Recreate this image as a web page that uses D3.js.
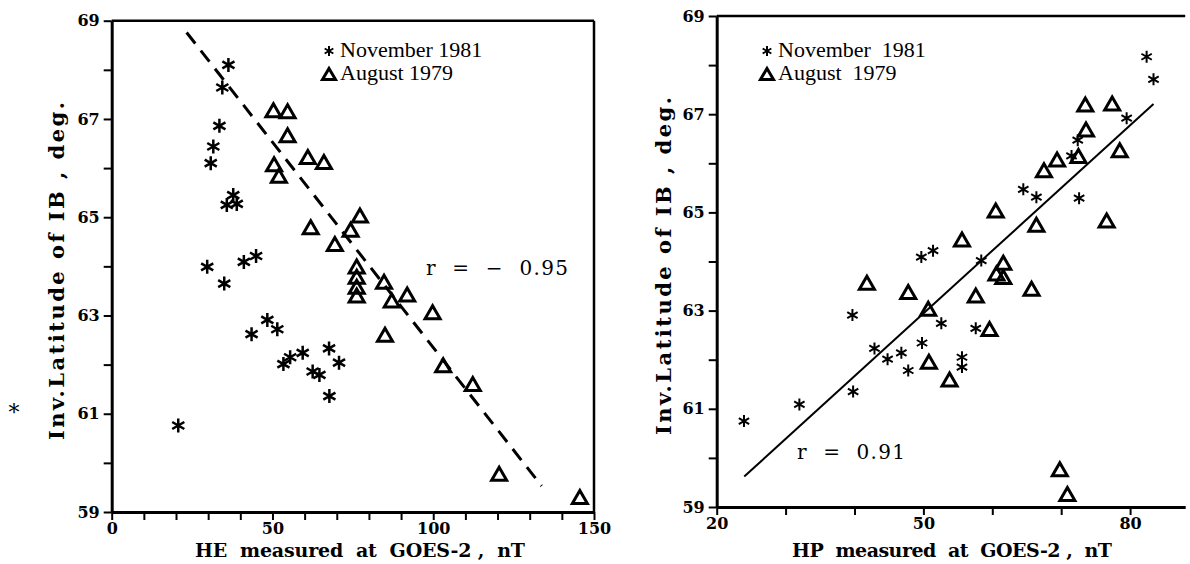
<!DOCTYPE html>
<html>
<head>
<meta charset="utf-8">
<script src="https://cdn.jsdelivr.net/npm/d3@7"></script>
<style>
  html, body { margin: 0; padding: 0; background: #fff; }
  svg { display: block; }
  .tick-label { font-family: "DejaVu Serif", serif; font-weight: bold; font-size: 16px; }
  .axis-title { font-family: "DejaVu Serif", serif; font-weight: bold; font-size: 19px; }
  .y-title { font-family: "DejaVu Serif", serif; font-weight: bold; font-size: 21px; }
  .legend { font-family: "Liberation Serif", "Times New Roman", serif; font-size: 22px; }
  .rtext { font-family: "DejaVu Serif", serif; font-size: 20px; }
</style>
</head>
<body>
<svg id="chart" width="1190" height="564"></svg>
<script>
// ---- Left panel: HE component vs. inv. latitude of the isotropic boundary ----
const heNovX = [36.3, 34.4, 33.5, 31.6, 30.8, 37.8, 35.8, 38.9, 29.7, 41.1, 44.9, 35.0,
                43.5, 48.4, 51.5, 53.4, 55.5, 59.4, 62.5, 64.6, 67.6, 70.7, 67.7, 20.7];
const heNovY = [68.10, 67.64, 66.86, 66.44, 66.10, 65.45, 65.25, 65.27, 63.99, 64.09, 64.21, 63.65,
                62.62, 62.91, 62.72, 62.01, 62.15, 62.24, 61.86, 61.79, 62.33, 62.04, 61.36, 60.76];
const heAugX = [50.3, 54.7, 54.7, 61.0, 66.0, 50.5, 52.0, 61.9, 77.2, 74.3, 69.4,
                76.2, 76.2, 76.2, 76.2, 84.7, 87.1, 91.9, 99.8, 85.0, 103.1, 112.3, 120.5, 145.6];
const heAugY = [67.15, 67.13, 66.64, 66.20, 66.10, 66.05, 65.82, 64.77, 65.01, 64.72, 64.43,
                63.97, 63.76, 63.56, 63.38, 63.66, 63.28, 63.40, 63.04, 62.58, 61.96, 61.58, 59.75, 59.28];
const heFitX = [23.3, 133.7];
const heFitY = [68.76, 59.53];
const heTicks = [0, 50, 100, 150];

// ---- Right panel: HP component vs. inv. latitude ----
const hpNovX = [23.96, 32.0, 39.8, 39.7, 42.9, 44.8, 46.8, 47.8, 49.8, 52.6, 49.7, 51.4,
                58.4, 55.6, 55.6, 57.6, 64.5, 66.4, 72.6, 71.5, 72.4, 79.5, 82.4, 83.4];
const hpNovY = [60.75, 61.09, 61.35, 62.91, 62.23, 62.01, 62.14, 61.78, 62.34, 62.74, 64.09, 64.22,
                64.02, 62.05, 61.85, 62.64, 65.47, 65.31, 65.29, 66.15, 66.47, 66.92, 68.17, 67.71];
const hpAugX = [41.8, 47.8, 50.7, 50.8, 53.8, 57.6, 59.6, 65.7, 61.6, 60.6, 61.6, 69.8,
                70.9, 60.5, 66.4, 55.6, 76.6, 67.5, 69.4, 72.5, 78.5, 73.6, 73.5, 77.4];
const hpAugY = [63.54, 63.35, 63.01, 61.93, 61.57, 63.28, 62.60, 63.42, 63.95, 63.73, 63.66, 59.74,
                59.24, 65.01, 64.72, 64.42, 64.81, 65.83, 66.05, 66.12, 66.24, 66.66, 67.17, 67.19];
const hpFitX = [24.0, 83.4];
const hpFitY = [59.62, 67.21];
const hpTicks = [20, 50, 80];

const latTickLabels = ["69", "67", "65", "63", "61", "59"];
const latTickValues = [69, 67, 65, 63, 61, 59];
const legendLabels = ["November 1981", "August 1979"];

const svg = d3.select("#chart");

// six-armed asterisk marker
function starPath(r) {
  const p = d3.path();
  for (let k = 0; k < 3; k++) {
    const a = Math.PI / 2 + k * Math.PI / 3;
    p.moveTo(-r * Math.cos(a), -r * Math.sin(a));
    p.lineTo(r * Math.cos(a), r * Math.sin(a));
  }
  return p.toString();
}
// open triangle marker
function triPath(w, h) {
  return `M0,${-h * 0.6}L${w / 2},${h * 0.4}L${-w / 2},${h * 0.4}Z`;
}

function panel(cfg) {
  const g = svg.append("g");
  const x = d3.scaleLinear().domain(cfg.xDomain).range(cfg.xRange);
  const y = d3.scaleLinear().domain([59, 69]).range(cfg.yRange);
  const [x0, x1] = cfg.xRange;
  const [yb, yt] = cfg.yRange;

  // frame
  g.append("line").attr("x1", x0).attr("x2", x1).attr("y1", yt).attr("y2", yt)
    .attr("stroke", "#000").attr("stroke-width", 2.5);
  if (cfg.rightBorder) {
    g.append("line").attr("x1", x1).attr("x2", x1).attr("y1", yt).attr("y2", yb)
      .attr("stroke", "#000").attr("stroke-width", 2.5);
  }

  // y axis (ticks every degree, labels on odd degrees)
  const yAxis = d3.axisLeft(y)
    .tickValues(d3.range(59, 70, 1))
    .tickSize(8)
    .tickSizeOuter(0)
    .tickFormat(d => {
      const i = latTickValues.indexOf(d);
      return i >= 0 ? latTickLabels[i] : "";
    });
  const ya = g.append("g").attr("transform", `translate(${x0},0)`).call(yAxis);
  ya.select(".domain").attr("stroke-width", 3);
  ya.selectAll(".tick line").attr("stroke-width", 2);
  ya.selectAll(".tick text").attr("class", "tick-label").attr("x", -12).attr("fill", "#000");

  // x axis
  const xAxis = d3.axisBottom(x)
    .tickValues(d3.range(cfg.xDomain[0], cfg.xDomain[1] + 0.001, cfg.minorStep))
    .tickSize(8)
    .tickSizeOuter(0)
    .tickFormat(d => cfg.xTicks.some(t => Math.abs(t - d) < 1e-6) ? String(d) : "");
  const xa = g.append("g").attr("transform", `translate(0,${yb})`).call(xAxis);
  xa.select(".domain").attr("stroke-width", 3);
  xa.selectAll(".tick line").attr("stroke-width", 2);
  xa.selectAll(".tick text").attr("class", "tick-label").attr("y", 11).attr("fill", "#000");

  // regression line
  g.append("line")
    .attr("x1", x(cfg.fitX[0])).attr("y1", y(cfg.fitY[0]))
    .attr("x2", x(cfg.fitX[1])).attr("y2", y(cfg.fitY[1]))
    .attr("stroke", "#000")
    .attr("stroke-width", cfg.dashed ? 3 : 2)
    .attr("stroke-dasharray", cfg.dashed ? "14,9" : null);

  // August 1979 triangles
  g.append("g").selectAll("path").data(cfg.augX.map((v, i) => [v, cfg.augY[i]])).join("path")
    .attr("d", triPath(15, 13))
    .attr("transform", d => `translate(${x(d[0])},${y(d[1])})`)
    .attr("fill", "none").attr("stroke", "#000").attr("stroke-width", 3)
    .attr("stroke-linejoin", "miter");

  // November 1981 asterisks
  g.append("g").selectAll("path").data(cfg.novX.map((v, i) => [v, cfg.novY[i]])).join("path")
    .attr("d", starPath(cfg.starR))
    .attr("transform", d => `translate(${x(d[0])},${y(d[1])})`)
    .attr("fill", "none").attr("stroke", "#000").attr("stroke-width", cfg.starW);

  // legend
  const lg = g.append("g").attr("transform", `translate(${cfg.legend[0]},${cfg.legend[1]})`);
  lg.append("path").attr("d", starPath(5)).attr("transform", "translate(0,-6)")
    .attr("stroke", "#000").attr("stroke-width", 2);
  lg.append("text").attr("class", "legend").attr("x", 11).attr("y", 0)
    .style("white-space", "pre").text(cfg.legendText[0]);
  lg.append("path").attr("d", triPath(13, 11)).attr("transform", "translate(0,18)")
    .attr("fill", "none").attr("stroke", "#000").attr("stroke-width", 3);
  lg.append("text").attr("class", "legend").attr("x", 11).attr("y", 23)
    .style("white-space", "pre").text(cfg.legendText[1]);

  // correlation coefficient
  g.append("text").attr("class", "rtext").attr("x", cfg.rPos[0]).attr("y", cfg.rPos[1])
    .attr("textLength", cfg.rLen).attr("lengthAdjust", "spacing")
    .style("white-space", "pre").text(cfg.rText);

  // axis titles
  g.append("text").attr("class", "axis-title").attr("text-anchor", "middle")
    .attr("x", cfg.xTitle[0]).attr("y", cfg.xTitle[1])
    .attr("textLength", cfg.xTitleLen).attr("lengthAdjust", "spacing")
    .style("white-space", "pre").text(cfg.xTitleText);
  g.append("text").attr("class", "y-title").attr("text-anchor", "middle")
    .attr("transform", `translate(${cfg.yTitle[0]},${cfg.yTitle[1]}) rotate(-90)`)
    .attr("textLength", 338).attr("lengthAdjust", "spacing")
    .style("white-space", "pre").text("Inv.Latitude of IB , deg.");
}

panel({
  xDomain: [0, 150], xRange: [111.7, 594], yRange: [512, 20.7],
  minorStep: 10, xTicks: heTicks, rightBorder: true,
  novX: heNovX, novY: heNovY, augX: heAugX, augY: heAugY,
  fitX: heFitX, fitY: heFitY, dashed: true, starR: 7, starW: 2.5,
  legend: [329, 57], legendText: legendLabels,
  rPos: [426, 275], rText: "r  =  \u2212  0.95", rLen: 142,
  xTitle: [360, 557], xTitleLen: 330, xTitleText: "HE  measured  at  GOES-2 ,  nT",
  yTitle: [64, 271]
});

panel({
  xDomain: [20, 88], xRange: [716.7, 1185.2], yRange: [507, 16],
  minorStep: 10, xTicks: hpTicks, rightBorder: false,
  novX: hpNovX, novY: hpNovY, augX: hpAugX, augY: hpAugY,
  fitX: hpFitX, fitY: hpFitY, dashed: false, starR: 6, starW: 2,
  legend: [767, 57], legendText: ["November  1981", "August  1979"],
  rPos: [797, 459], rText: "r  =  0.91", rLen: 108,
  xTitle: [952, 557], xTitleLen: 320, xTitleText: "HP  measured  at  GOES-2 ,  nT",
  yTitle: [671, 266]
});

// stray asterisk printed left of the first panel
svg.append("text").attr("x", 14).attr("y", 420).attr("text-anchor", "middle")
  .style("font-family", "DejaVu Serif, serif").style("font-size", "22px").text("*");
</script>
</body>
</html>
